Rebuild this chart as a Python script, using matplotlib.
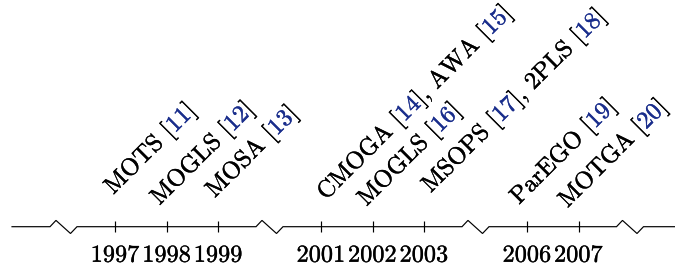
import numpy as np
import matplotlib

matplotlib.use("Agg")
import matplotlib.pyplot as plt
import matplotlib.patheffects as pe

# timeline slots: "break" marks a zigzag where years are skipped
timeline = ["break", 1997, 1998, 1999, "break", 2001, 2002, 2003, "break", 2006, 2007, "break"]

label_years = [1997, 1998, 1999, 2001, 2002, 2003, 2006, 2007]
methods = [["MOTS"], ["MOGLS"], ["MOSA"], ["CMOGA", "AWA"], ["MOGLS"],
           ["MSOPS", "2PLS"], ["ParEGO"], ["MOTGA"]]
refs = [[11], [12], [13], [14, 15], [16], [17, 18], [19], [20]]

BLACK = "#000000"
CITE = "#1a2e8c"
FONT = "cmr10"
FS = 17.5
DPI = 100

# hand placement of each rotated label (pixels from its tick: right, up)
label_nudge = [(-1.7, 31.7), (-7, 21), (-3.3, 28.4), (5, 26), (-6, 20),
               (6.7, 33.4), (-8, 21.7), (-11, 18.4)]

plt.rcParams.update({"font.family": FONT, "axes.unicode_minus": False})

fig = plt.figure(figsize=(6.75, 2.7), dpi=DPI)
ax = fig.add_axes([0, 0, 1, 1])
# x in slot units, y in pixels relative to the time line
ax.set_xlim(-63.5 / 51.5, (675 - 63.5) / 51.5)
ax.set_ylim(-43.3, 226.7)
ax.axis("off")

slot_of = {v: i for i, v in enumerate(timeline) if v != "break"}
breaks = [i for i, v in enumerate(timeline) if v == "break"]

# main line with zigzag breaks
xs, ys = [-1.0], [0.0]
for c in breaks:
    xs += [c - 0.262, c - 0.146, c + 0.136, c + 0.262]
    ys += [0.0, 6.3, -6.8, 0.0]
xs.append(len(timeline) + 0.5)
ys.append(0.0)
ax.plot(xs, ys, color=BLACK, lw=0.85, solid_joinstyle="miter")

# ticks and year labels
years = [v for v in timeline if v != "break"]
tick_x = [slot_of[y] for y in years]
ax.vlines(tick_x, -5.5, 5.5, color=BLACK, lw=0.85)


def heavy(col):
    return [pe.withStroke(linewidth=0.25, foreground=col)]


for y in years:
    ax.text(slot_of[y], -35, str(y), ha="center", va="baseline",
            fontsize=FS, color=BLACK, path_effects=heavy(BLACK))

# rotated method labels, black names with coloured citation numbers
renderer = fig.canvas.get_renderer()


def text_width(s):
    t = ax.text(0, 0, s, fontsize=FS)
    w = t.get_window_extent(renderer).width
    t.remove()
    return w


ang = np.deg2rad(45)
for year, names, nums, (nx, ny) in zip(label_years, methods, refs, label_nudge):
    pieces = []
    for k, (n, r) in enumerate(zip(names, nums)):
        lead = "], " if k else ""
        pieces.append((lead + n + " [", BLACK))
        pieces.append((str(r), CITE))
    pieces.append(("]", BLACK))
    prefix = ""
    for s, col in pieces:
        d = text_width(prefix) if prefix else 0.0
        ox = nx + d * np.cos(ang)
        oy = ny + d * np.sin(ang)
        ax.annotate(s, xy=(slot_of[year], 0), xycoords="data",
                    xytext=(ox, oy), textcoords="offset pixels",
                    rotation=45, rotation_mode="anchor",
                    ha="left", va="baseline", fontsize=FS, color=col,
                    path_effects=heavy(col), annotation_clip=False)
        prefix += s

fig.savefig("out.png", dpi=DPI, facecolor="white")
